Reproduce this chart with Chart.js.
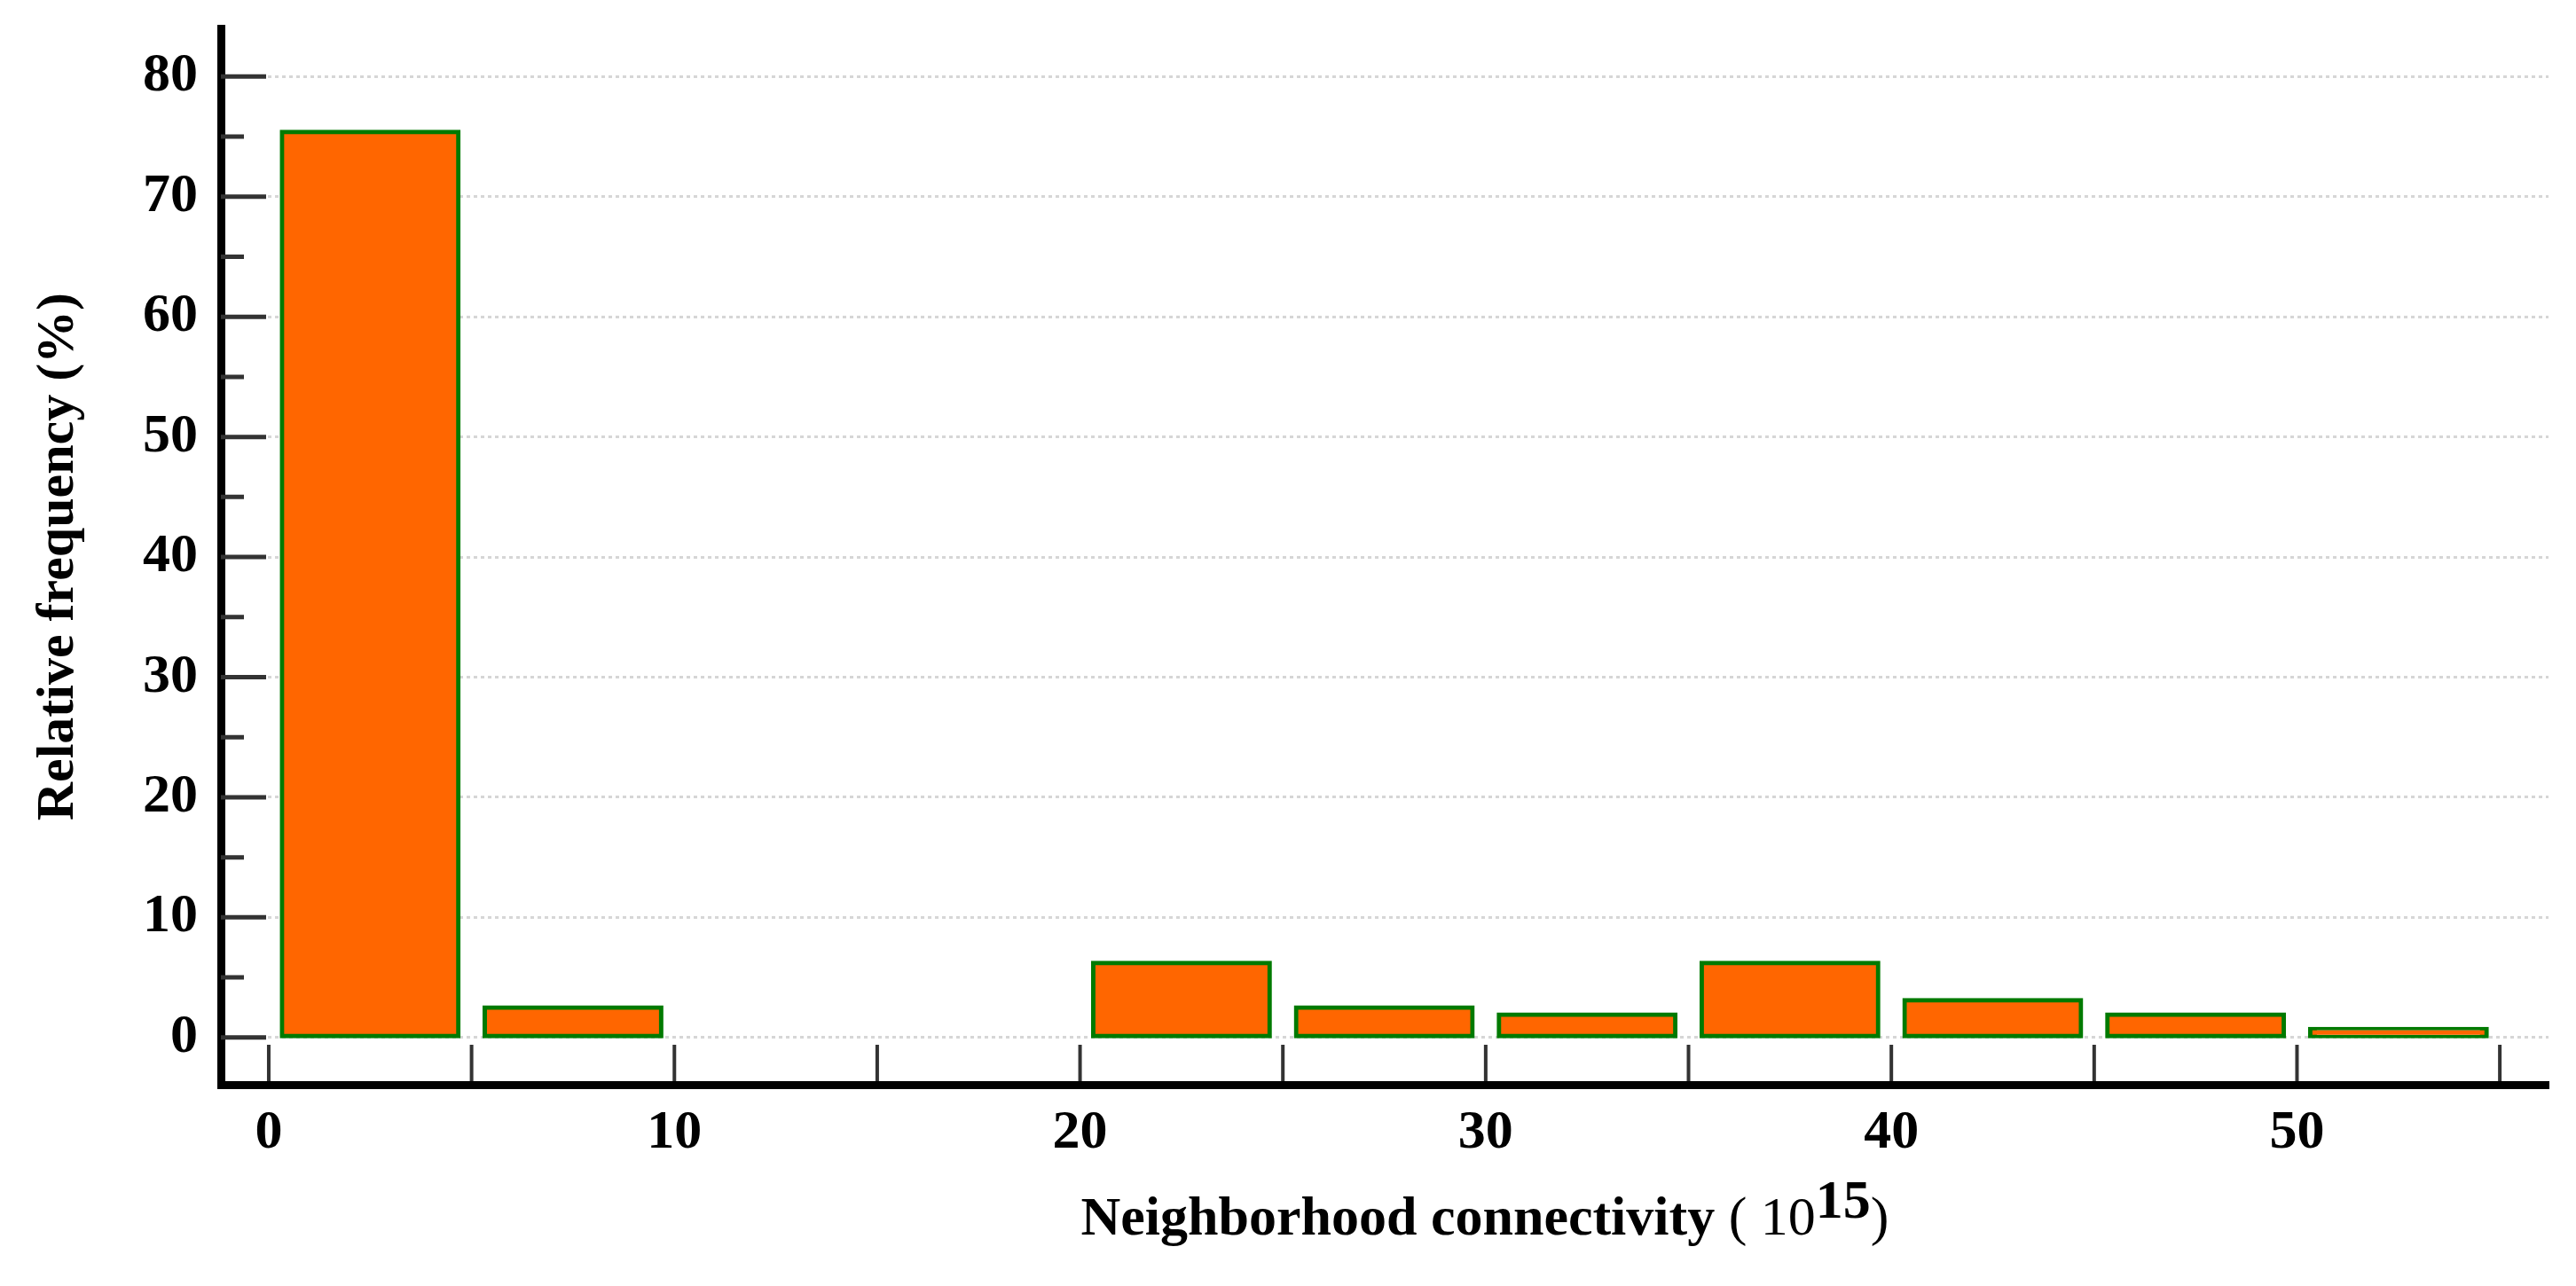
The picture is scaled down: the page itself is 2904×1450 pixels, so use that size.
<!DOCTYPE html>
<html>
<head>
<meta charset="utf-8">
<script src="https://cdn.jsdelivr.net/npm/chart.js@4.4.1/dist/chart.umd.min.js"></script>
<style>
  html, body { margin: 0; padding: 0; background: #fff; }
  #wrap { width: 2904px; height: 1450px; }
</style>
</head>
<body>
<div id="wrap"><canvas id="chart" width="2904" height="1450"></canvas></div>
<script>
// ── DATA ──
// bin centres (x 10^15), bins are 5 wide
const binCenters  = [2.5, 7.5, 12.5, 17.5, 22.5, 27.5, 32.5, 37.5, 42.5, 47.5, 52.5];
const freqs       = [75.4, 2.5, null, null, 6.2, 2.5, 1.9, 6.2, 3.1, 1.9, 0.7];
const xTickLabels = [0, 10, 20, 30, 40, 50];
const xTickMarks  = [0, 5, 10, 15, 20, 25, 30, 35, 40, 45, 50, 55];
const yTickLabels = [0, 10, 20, 30, 40, 50, 60, 70, 80];
const yMinorTicks = [5, 15, 25, 35, 45, 55, 65, 75];

const SERIF = '"Liberation Serif", "Times New Roman", serif';

// inner tick marks + the mixed-weight x title
const axisMarks = {
  id: 'axisMarks',
  afterDraw(chart) {
    const { ctx, chartArea: a, scales: { x, y } } = chart;
    ctx.save();
    ctx.strokeStyle = '#333';
    ctx.lineWidth = 5;
    ctx.beginPath();
    yTickLabels.forEach(v => { const py = y.getPixelForValue(v); ctx.moveTo(a.left, py); ctx.lineTo(a.left + 51, py); });
    yMinorTicks.forEach(v => { const py = y.getPixelForValue(v); ctx.moveTo(a.left, py); ctx.lineTo(a.left + 26, py); });
    ctx.stroke();

    ctx.lineWidth = 4;
    ctx.beginPath();
    xTickMarks.forEach(v => { const px = x.getPixelForValue(v); ctx.moveTo(px, a.bottom - 4); ctx.lineTo(px, a.bottom - 45); });
    ctx.stroke();

    // x title: Neighborhood connectivity ( 10^15)
    const parts = [
      { t: 'Neighborhood connectivity', w: 'bold', dy: 0 },
      { t: ' ( 10', w: 'normal', dy: 0 },
      { t: '15', w: 'bold', dy: -19 },
      { t: ')', w: 'normal', dy: 0 }
    ];
    let total = 0;
    parts.forEach(p => { ctx.font = p.w + ' 62px ' + SERIF; p.len = ctx.measureText(p.t).width; total += p.len; });
    let tx = (a.left + a.right) / 2 + 113 - total / 2;
    const ty = a.bottom + 169;
    ctx.fillStyle = '#000';
    ctx.textBaseline = 'alphabetic';
    ctx.textAlign = 'left';
    parts.forEach(p => { ctx.font = p.w + ' 62px ' + SERIF; ctx.fillText(p.t, tx, ty + p.dy); tx += p.len; });
    ctx.restore();
  }
};

new Chart(document.getElementById('chart'), {
  type: 'bar',
  data: {
    datasets: [{
      data: binCenters.map((x, i) => ({ x, y: freqs[i] })),
      backgroundColor: '#ff6600',
      borderColor: '#007a00',
      borderWidth: 5,
      borderSkipped: false,
      inflateAmount: 2.5,
      categoryPercentage: 1,
      barPercentage: 0.87
    }]
  },
  options: {
    responsive: false,
    devicePixelRatio: 1,
    animation: false,
    layout: { padding: { left: 0, right: 31, top: 31, bottom: 0 } },
    plugins: { legend: { display: false }, tooltip: { enabled: false } },
    scales: {
      x: {
        type: 'linear',
        offset: false,
        min: -1.18, max: 56.2,
        afterBuildTicks: ax => { ax.ticks = xTickLabels.map(v => ({ value: v })); },
        afterFit: s => { s.height = 227; },
        ticks: { font: { family: SERIF, size: 62, weight: 'bold' }, color: '#000', padding: 18, maxRotation: 0, autoSkip: false },
        grid: { drawOnChartArea: false, drawTicks: false },
        border: { color: '#000', width: 9 }
      },
      y: {
        min: -3.93, max: 84,
        afterBuildTicks: ax => { ax.ticks = yTickLabels.map(v => ({ value: v })); },
        afterFit: s => { s.width = 249; },
        ticks: { font: { family: SERIF, size: 62, weight: 'bold', lineHeight: 0.2 }, color: '#000', padding: 26 },
        grid: { color: '#d6d6d6', lineWidth: 3, drawTicks: false },
        border: { color: '#000', width: 9, dash: [4, 4] },
        title: {
          display: true, text: 'Relative frequency (%)', color: '#000',
          font: { family: SERIF, size: 60, weight: 'bold' },
          padding: { top: 30, bottom: 0 }
        }
      }
    }
  },
  plugins: [axisMarks]
});
</script>
</body>
</html>
